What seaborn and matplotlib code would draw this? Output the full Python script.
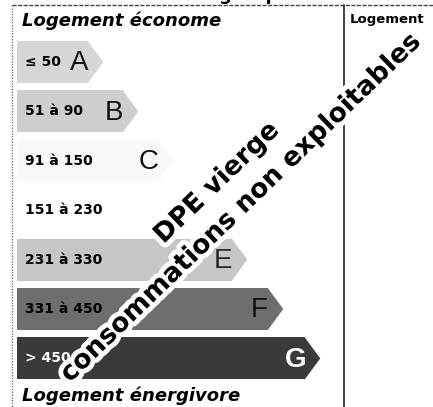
import numpy as np
import pandas as pd
import matplotlib
matplotlib.use("Agg")
import matplotlib.pyplot as plt
import matplotlib.patheffects as pe
import seaborn as sns

# DPE energy label data
classes = ['A', 'B', 'C', 'D', 'E', 'F', 'G']
ranges = ['≤ 50', '51 à 90', '91 à 150', '151 à 230', '231 à 330', '331 à 450', '> 450']
bar_len = [71, 106, 141, 178, 215, 251, 288]
head_len = 15
fills = ['#d6d6d6', '#cecece', '#f8f8f8', '#ffffff', '#c6c6c6', '#6e6e6e', '#3a3a3a']
letter_colors = ['#111111', '#111111', '#111111', '#f4f4f4', '#2a2a2a', '#111111', '#ffffff']
range_colors = ['#000000'] * 6 + ['#ffffff']

df = pd.DataFrame({'classe': classes, 'longueur': bar_len})

sns.set_theme(style='white')
plt.rcParams['font.family'] = ['DejaVu Sans']

W, H = 433, 407
fig = plt.figure(figsize=(W / 100, H / 100), dpi=100)
ax = fig.add_axes([0, 0, 1, 1])

sns.barplot(data=df, x='longueur', y='classe', hue='classe', palette=dict(zip(classes, fills)),
            orient='h', width=0.85, saturation=1, legend=False, linewidth=0, ax=ax)

# arrow heads
for i, (L, c) in enumerate(zip(bar_len, fills)):
    ax.fill([L - 0.5, L + head_len, L - 0.5], [i - 0.425, i, i + 0.425],
            facecolor=c, edgecolor=c, lw=0.3)

ax.set_xlim(-17, W - 17)
ax.set_ylim((H - 62) / 49.4, -62 / 49.4)
ax.axis('off')

# range labels and class letters
for i in range(len(classes)):
    ax.text(8, i, ranges[i], ha='left', va='center', fontsize=10, fontweight='bold',
            color=range_colors[i])
    ax.text(bar_len[i] + head_len - 24, i + 0.03, classes[i], ha='center', va='center',
            fontsize=20, fontweight='bold' if classes[i] == 'G' else 'normal',
            family='Liberation Sans', color=letter_colors[i])


def fx(x):
    return x / W


def fy(y):
    return 1 - y / H


# frame lines
fig.add_artist(plt.Line2D([fx(12), fx(W)], [fy(5), fy(5)], color='#444444', lw=1, ls=(0, (3, 1))))
fig.add_artist(plt.Line2D([fx(12), fx(12)], [fy(5), fy(H)], color='#777777', lw=1, ls=(0, (1, 1))))
fig.add_artist(plt.Line2D([fx(344), fx(344)], [fy(5), fy(H)], color='#222222', lw=1.2))

# headings (the title above the frame is cut by the scan)
fig.text(fx(240), fy(0), 'énergétiques', ha='center', va='baseline', fontsize=13,
         fontweight='bold', color='black')
fig.text(fx(22), fy(21), 'Logement économe', ha='left', va='center', fontsize=13,
         fontweight='bold', style='italic', color='black')
fig.text(fx(22), fy(396), 'Logement énergivore', ha='left', va='center', fontsize=13,
         fontweight='bold', style='italic', color='black')
fig.text(fx(350), fy(19), 'Logement', ha='left', va='center', fontsize=9.5,
         fontweight='bold', color='black')

# watermark
halo = [pe.withStroke(linewidth=7, foreground='white')]
fig.text(fx(217), fy(183), 'DPE vierge', ha='center', va='center', rotation=44,
         rotation_mode='anchor', fontsize=19, fontweight='bold', color='black',
         path_effects=halo, zorder=10)
fig.text(fx(241), fy(208), 'consommations non exploitables', ha='center', va='center',
         rotation=44, rotation_mode='anchor', fontsize=19, fontweight='bold',
         color='black', path_effects=halo, zorder=10)

fig.savefig('out.png', dpi=100)
